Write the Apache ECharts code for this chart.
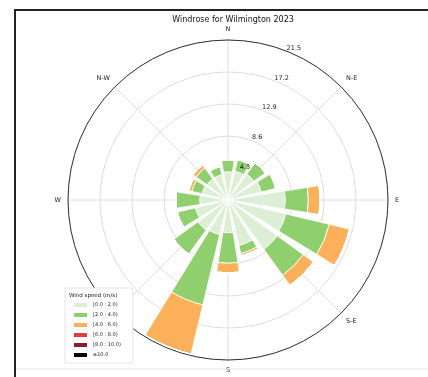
<!DOCTYPE html>
<html>
<head>
<meta charset="utf-8">
<script src="https://cdn.jsdelivr.net/npm/echarts@6/dist/echarts.min.js"></script>
<style>
  html, body { margin: 0; padding: 0; background: #fff; }
  #main { width: 428px; height: 377px; }
</style>
</head>
<body>
<div id="main"></div>
<script>
// 16 compass sectors, clockwise from north
var directions = ['N', 'NNE', 'NE', 'ENE', 'E', 'ESE', 'SE', 'SSE',
                  'S', 'SSW', 'SW', 'WSW', 'W', 'WNW', 'NW', 'NNW'];
// frequency (%) per speed bin
var bin0 = [3.8, 4.0, 4.3, 4.6, 7.7, 8.0, 8.2, 6.3, 4.4, 4.8, 5.0, 4.5, 3.8, 3.6, 3.5, 3.5];
var bin1 = [1.6, 1.6, 1.9, 2.0, 3.1, 6.0, 4.3, 1.1, 4.1, 9.7, 4.0, 2.5, 3.2, 1.4, 1.8, 1.1];
var bin2 = [0, 0, 0, 0, 1.6, 2.8, 1.7, 0.3, 1.3, 6.8, 0, 0, 0, 0.4, 0.5, 0];
var bin3 = [0, 0, 0, 0, 0, 0, 0, 0, 0, 0, 0, 0, 0, 0, 0, 0];
var bin4 = [0, 0, 0, 0, 0, 0, 0, 0, 0, 0, 0, 0, 0, 0, 0, 0];
var bin5 = [0, 0, 0, 0, 0, 0, 0, 0, 0, 0, 0, 0, 0, 0, 0, 0];
var binLabels = ['[0.0 : 2.0)', '[2.0 : 4.0)', '[4.0 : 6.0)', '[6.0 : 8.0)', '[8.0 : 10.0)', '\u226510.0'];
var binColors = ['#dcefd6', '#90cf6e', '#fdb05a', '#e0403a', '#8b1a3a', '#000000'];
// compass labels every 45 degrees, ring labels
var compassLabels = ['N', 'N-E', 'E', 'S-E', 'S', 'S-W', 'W', 'N-W'];
var ringMax = 21.5;
var ringStep = 4.3;

var chart = echarts.init(document.getElementById('main'));

var bins = [bin0, bin1, bin2, bin3, bin4, bin5];
var series = bins.map(function (d, i) {
    return {
        name: binLabels[i],
        type: 'bar',
        coordinateSystem: 'polar',
        polarIndex: 0,
        stack: 'speed',
        data: d,
        barCategoryGap: '20%',
        itemStyle: { color: binColors[i], borderColor: '#fff', borderWidth: 0.8 }
    };
});

var center = [228, 200];
var rad = 160;

var option = {
    animation: false,
    title: {
        text: 'Windrose for Wilmington 2023',
        left: 228,
        textAlign: 'center',
        top: 11,
        textStyle: { fontFamily: 'DejaVu Sans', fontSize: 8, fontWeight: 'normal', color: '#111' }
    },
    polar: [
        { center: center, radius: rad },
        { center: center, radius: rad },
        { center: center, radius: rad },
        { center: center, radius: rad }
    ],
    angleAxis: [
        {
            polarIndex: 0, type: 'category', data: directions,
            startAngle: 90 + 11.25, clockwise: true, show: false
        },
        {
            polarIndex: 1, type: 'value', min: 0, max: 360, interval: 45,
            startAngle: 90, clockwise: true,
            axisLine: { lineStyle: { color: '#333', width: 1 } },
            axisTick: { show: false },
            splitLine: { lineStyle: { color: '#dcdcdc', width: 1 } },
            axisLabel: {
                margin: 7, fontFamily: 'DejaVu Sans', fontSize: 6.5, color: '#222',
                formatter: function (v) { return v >= 360 ? '' : compassLabels[Math.round(v / 45) % 8]; }
            }
        },
        {
            polarIndex: 2, type: 'value', min: 0, max: 360,
            startAngle: 67.5, clockwise: true, show: false
        },
        {
            polarIndex: 3, type: 'value', min: 0, max: 360,
            startAngle: 67.5, clockwise: true, show: false
        }
    ],
    radiusAxis: [
        { polarIndex: 0, min: 0, max: ringMax, show: false },
        { polarIndex: 1, min: 0, max: ringMax, show: false },
        {
            // ring grid
            polarIndex: 2, min: 0, max: ringMax, interval: ringStep,
            axisLine: { show: false },
            axisTick: { show: false },
            axisLabel: { show: false },
            splitLine: { lineStyle: { color: '#dcdcdc', width: 1 } }
        },
        {
            // ring labels, drawn above the bars
            polarIndex: 3, min: 0, max: ringMax, interval: ringStep, z: 10,
            axisLine: { show: false },
            axisTick: { show: false },
            splitLine: { show: false },
            axisLabel: {
                margin: -5, align: 'center', verticalAlign: 'bottom',
                padding: [0, 0, 2, 0],
                showMinLabel: false, fontFamily: 'DejaVu Sans', fontSize: 6.5, color: '#222',
                formatter: function (v) { return v.toFixed(1); }
            }
        }
    ],
    legend: {
        data: binLabels,
        orient: 'vertical',
        left: 65,
        top: 288,
        padding: [13, 12, 4, 7],
        itemWidth: 15,
        itemHeight: 6,
        itemGap: 2,
        icon: 'rect',
        backgroundColor: '#fff',
        borderColor: '#e4e4e4',
        borderWidth: 1,
        textStyle: { fontFamily: 'DejaVu Sans', fontSize: 5, color: '#222' }
    },
    graphic: [
        {
            type: 'polyline', z: 100,
            shape: { points: [[15, 377], [15, 10], [428, 10]] },
            style: { stroke: '#222', lineWidth: 2, fill: null }
        },
        {
            type: 'line', z: 100,
            shape: { x1: 16, y1: 369, x2: 428, y2: 369 },
            style: { stroke: '#e6e6e6', lineWidth: 1 }
        },
        {
            type: 'text', z: 100, left: 69, top: 293,
            style: { text: 'Wind speed (m/s)', fontFamily: 'DejaVu Sans', fontSize: 5.5, fill: '#222' }
        }
    ],
    series: series
};

chart.setOption(option);
</script>
</body>
</html>
